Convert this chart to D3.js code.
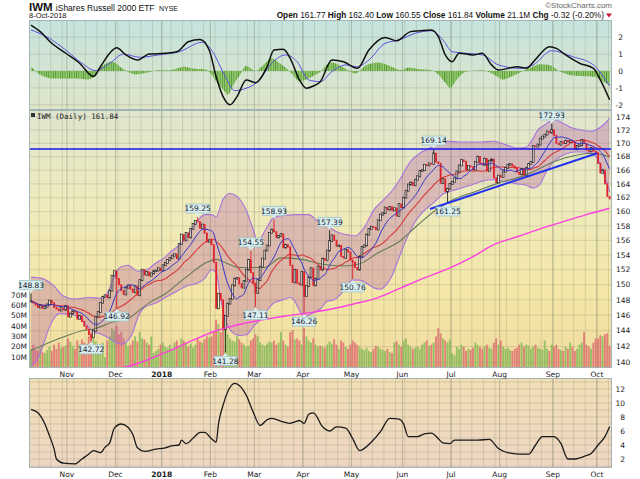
<!DOCTYPE html>
<html>
<head>
<meta charset="utf-8">
<script src="https://cdn.jsdelivr.net/npm/d3@7"></script>
<style>
  body { margin: 0; background: #fff; }
  svg { display: block; font-family: "DejaVu Sans", Verdana, sans-serif; }
</style>
</head>
<body>
<svg id="chart" width="640" height="479"></svg>
<script>
// IWM daily, 10-Oct-2017 .. 8-Oct-2018

// daily closes, one per trading day
const closes = [
  // Oct 2017
  147.8,147.6,147.3,147.0,147.2,146.9,147.1,147.4,147.9,147.6,147.0,146.8,146.6,146.9,146.7,147.2,
  // Nov
  145.8,146.2,146.5,146.4,145.5,145.9,145.2,144.6,144.2,143.5,143.2,144.0,145.8,146.4,147.6,148.4,148.6,148.3,149.2,151.2,151.8,
  // Dec
  150.8,150.0,149.2,148.7,149.6,149.9,149.4,149.0,149.8,148.6,150.6,152.0,151.3,151.7,151.2,151.5,151.8,151.9,152.2,151.9,
  // Jan 2018
  152.6,152.9,153.3,153.6,153.9,154.1,153.5,155.5,156.8,156.0,157.0,156.4,157.6,158.3,158.7,158.6,157.7,158.2,157.0,155.8,156.0,
  // Feb
  155.4,153.0,146.9,148.8,148.0,144.2,145.9,147.5,148.1,149.9,150.8,150.9,150.1,149.6,150.5,152.0,153.3,151.6,150.2,
  // Mar
  148.9,150.6,152.4,153.5,154.6,155.3,157.0,157.5,157.2,156.4,156.6,156.9,155.0,155.4,155.1,152.6,150.3,152.0,150.2,150.0,151.7,
  // Apr
  148.5,149.8,151.0,152.2,149.9,150.8,152.4,152.0,153.5,153.3,154.6,155.9,156.7,156.0,155.2,155.3,153.8,153.6,154.7,154.4,153.3,
  // May
  153.0,152.3,152.0,153.8,155.1,155.3,156.8,157.6,157.9,157.8,157.5,158.8,159.6,159.8,160.6,160.3,160.7,160.2,160.5,159.4,161.1,160.6,
  // Jun
  162.0,163.0,163.9,164.2,163.8,164.6,165.1,165.9,166.0,166.8,166.7,167.0,166.9,168.5,167.2,167.0,164.1,164.7,162.9,163.3,164.0,
  // Jul
  164.3,164.8,165.8,166.7,167.5,167.3,166.1,166.6,166.5,166.1,167.2,168.0,167.0,166.8,167.7,165.9,167.4,167.6,164.9,164.2,165.2,
  // Aug
  165.0,165.8,166.3,166.8,166.9,166.6,166.3,165.7,165.4,166.2,165.3,166.3,166.9,167.2,169.6,169.5,169.8,170.7,171.0,171.3,171.8,171.6,172.0,
  // Sep
  171.2,170.0,169.8,170.2,170.0,170.4,170.2,170.4,170.1,169.1,169.6,169.7,170.5,170.0,169.0,168.8,169.3,168.8,168.6,
  // Oct
  167.0,165.6,166.0,164.0,162.2,161.84
];

// daily volume, millions
const volumes = [
  18,22,17,16,19,15,14,17,20,16,22,18,24,19,20,21,
  28,25,21,18,26,22,27,24,23,30,34,29,25,19,22,24,10,26,30,38,36,
  40,32,34,28,24,20,22,26,30,25,34,28,27,24,22,30,14,16,18,22,
  24,20,19,22,18,24,26,21,28,26,24,20,23,19,22,28,25,24,27,30,29,
  30,34,46,42,34,44,48,32,28,26,25,30,27,24,22,20,21,26,28,
  32,30,24,22,21,23,25,24,26,22,24,34,26,22,20,34,36,27,28,26,22,
  38,30,26,24,28,22,20,21,20,19,22,25,23,27,22,18,26,24,20,18,22,
  26,24,22,20,18,17,19,16,15,18,21,20,18,17,16,18,15,14,24,25,22,20,
  26,28,22,20,18,19,20,18,22,24,26,21,22,24,30,38,33,28,26,24,27,
  14,12,20,18,22,20,16,18,17,19,24,22,20,18,20,22,19,18,24,28,22,
  26,20,18,19,17,16,18,19,22,24,20,22,21,18,20,22,19,18,17,26,18,16,22,
  20,22,18,17,16,20,18,24,20,16,18,22,24,34,22,20,18,24,28,
  28,31,30,32,33,21.1
];

// labelled highs / lows: [day index, price, kind]
const pivots = [
  [0,148.83,"high"],[26,142.72,"low"],[37,146.92,"low"],[72,159.25,"high"],
  [84,141.28,"low"],[95,154.55,"high"],[97,147.11,"low"],[105,158.93,"high"],
  [118,146.26,"low"],[129,157.39,"high"],[139,150.76,"low"],[174,169.14,"high"],
  [180,161.25,"low"],[225,172.93,"high"]
];

// indicator readings [day index, value]
const bbUpperPts = [[0,151.0],[5,150.8],[10,149.8],[14,148.5],[19,148.1],[25,148.3],[30,148.2],[34,149.5],[36,151.2],[39,152.4],[42,152.6],[46,151.8],[50,152.0],[54,152.9],[58,153.7],[61,154.6],[64,155.3],[67,156.5],[71,158.3],[75,159.6],[78,159.6],[80,159.3],[83,161.8],[86,162.6],[89,162.2],[93,160.2],[96,157.5],[98,155.8],[101,157.3],[105,159.2],[110,159.5],[115,159.6],[120,159.6],[124,158.6],[128,158.0],[132,157.2],[136,156.8],[140,156.6],[144,157.8],[148,160.2],[152,161.6],[156,163.0],[160,165.0],[164,167.3],[168,168.5],[172,169.2],[176,170.0],[180,170.3],[185,170.2],[190,170.2],[195,170.2],[200,170.3],[205,169.8],[210,169.3],[214,169.4],[216,170.2],[219,172.0],[222,172.8],[226,173.6],[230,173.0],[234,172.3],[238,172.0],[242,171.8],[245,172.2],[248,173.0],[250,173.8]];
const bbLowerPts = [[0,139.5],[3,140.5],[6,142.8],[8,144.5],[10,145.6],[12,146.2],[14,146.2],[19,146.0],[22,145.3],[25,144.4],[27,143.8],[30,143.6],[34,143.0],[36,142.6],[39,142.3],[42,142.8],[44,143.8],[46,145.6],[49,147.0],[54,147.6],[58,148.3],[61,148.8],[64,149.3],[67,149.8],[71,150.1],[75,150.8],[78,152.0],[80,151.6],[82,148.0],[84,145.5],[87,143.8],[90,143.4],[93,143.5],[96,144.5],[99,145.4],[102,146.6],[105,147.6],[109,148.0],[112,148.3],[114,147.8],[116,146.6],[118,145.8],[120,146.0],[122,146.3],[125,146.8],[128,147.8],[131,148.0],[134,148.8],[136,149.6],[139,150.6],[142,150.6],[145,150.2],[148,149.6],[151,149.4],[153,149.8],[156,151.2],[159,153.6],[162,156.0],[166,158.6],[170,160.2],[174,161.3],[178,162.5],[182,163.0],[186,163.4],[190,163.8],[195,164.4],[200,164.6],[205,164.3],[210,164.0],[214,163.8],[217,163.4],[220,164.0],[223,166.0],[227,167.6],[231,168.4],[235,168.7],[239,168.7],[242,168.5],[244,168.0],[246,166.8],[248,165.0],[250,162.8]];
const ma50Pts = [[0,141.5],[13,143.1],[22,144.0],[28,144.3],[35,145.1],[42,145.6],[51,147.6],[58,148.8],[67,151.0],[76,153.0],[80,153.4],[85,152.8],[90,152.3],[101,152.3],[108,153.6],[117,153.4],[125,152.8],[135,152.5],[142,152.8],[150,154.3],[159,155.8],[167,158.1],[176,160.5],[183,161.8],[193,163.0],[201,164.0],[213,165.2],[228,167.5],[242,168.5],[250,168.0]];
const ma200Pts = [[0,136.5],[10,137.3],[20,138.2],[30,139.0],[40,139.4],[45,139.8],[50,140.3],[60,141.5],[70,142.8],[80,144.0],[90,144.8],[100,145.4],[110,145.9],[120,146.3],[130,146.8],[140,147.5],[150,148.3],[160,149.6],[170,150.9],[180,152.1],[190,153.6],[200,155.4],[210,156.5],[220,157.6],[230,158.6],[240,159.6],[250,160.5]];
const macdPts = [[0,2.72],[4,2.33],[9,1.64],[15,1.05],[21,0.46],[27,-0.33],[30,0.25],[34,1.05],[37,1.38],[41,0.95],[46,0.65],[51,1.0],[58,1.05],[63,1.14],[68,1.73],[73,1.87],[77,1.24],[80,-0.34],[83,-1.52],[86,-2.0],[89,-1.52],[93,-0.53],[97,-0.69],[102,0.25],[105,1.24],[109,1.28],[112,0.75],[116,-0.53],[119,-1.02],[122,-0.89],[125,-0.63],[130,0.65],[135,0.55],[141,0.16],[146,1.24],[153,1.98],[158,1.79],[164,2.33],[168,2.38],[173,2.43],[176,2.03],[179,0.95],[182,0.55],[185,1.05],[191,0.95],[195,1.05],[199,0.36],[202,0.06],[210,0.25],[214,0.16],[218,0.69],[224,1.44],[227,1.34],[231,0.95],[237,0.46],[243,0.16],[246,-0.53],[250,-1.7]];
const signalPts = [[0,2.43],[8,1.93],[15,1.24],[22,0.46],[28,0.02],[34,0.46],[40,1.0],[47,0.81],[55,0.95],[64,1.14],[74,1.70],[78,1.24],[84,-0.34],[88,-1.16],[93,-1.02],[98,-0.63],[104,0.46],[110,0.95],[115,0.55],[120,-0.53],[125,-0.63],[130,-0.04],[136,0.36],[141,0.25],[146,0.65],[153,1.64],[159,1.83],[166,2.23],[173,2.38],[178,1.83],[182,1.14],[188,1.05],[195,0.95],[202,0.36],[211,0.16],[217,0.36],[225,1.20],[234,0.85],[243,0.36],[250,-0.89]];
const histPts = [[0,0.25],[5,-0.3],[10,-0.45],[20,-0.45],[24,-0.5],[28,-0.3],[30,0.2],[35,0.55],[40,0.1],[45,-0.2],[50,-0.1],[55,0.05],[60,0.05],[63,0.15],[66,0.25],[70,0.15],[75,0.1],[78,-0.2],[80,-0.6],[83,-1.1],[85,-1.4],[88,-0.7],[90,-0.3],[93,0.3],[97,0.0],[100,0.3],[104,0.75],[107,0.5],[110,0.2],[113,-0.2],[116,-0.6],[119,-0.5],[122,-0.3],[125,-0.05],[128,0.4],[130,0.5],[135,0.2],[140,-0.15],[145,0.35],[150,0.5],[155,0.3],[160,0.05],[163,0.2],[168,0.1],[173,0.05],[176,-0.2],[179,-0.7],[181,-1.0],[184,-0.5],[187,-0.1],[190,0.0],[195,0.05],[200,-0.2],[204,-0.5],[208,-0.3],[212,-0.05],[216,0.2],[220,0.4],[224,0.35],[228,0.0],[232,-0.2],[238,-0.3],[244,-0.35],[247,-0.6],[250,-0.85]];
const bwPts = [[0,9.1],[3,8.6],[6,7.0],[8,5.3],[10,3.4],[11,2.0],[14,1.4],[19,1.3],[22,2.0],[25,2.7],[27,3.2],[30,2.9],[32,3.7],[34,4.3],[36,6.4],[39,7.0],[42,6.5],[44,5.5],[46,3.6],[49,3.1],[54,3.4],[58,3.6],[61,3.9],[64,4.0],[65,4.7],[67,4.2],[71,5.3],[73,5.8],[75,5.8],[78,4.9],[80,4.4],[81,7.0],[83,9.7],[85,11.6],[88,12.8],[90,12.5],[93,11.1],[96,8.7],[99,6.8],[102,7.6],[104,7.8],[109,7.3],[112,7.1],[114,7.3],[116,7.5],[118,7.1],[120,8.4],[122,8.6],[126,6.6],[129,6.0],[132,6.6],[136,6.4],[139,4.9],[142,3.2],[147,4.4],[151,5.9],[155,7.8],[159,7.7],[161,7.0],[163,5.2],[167,5.2],[170,5.6],[173,5.7],[176,4.9],[178,4.3],[181,4.2],[183,4.7],[188,4.7],[193,4.7],[198,4.8],[202,3.5],[205,3.0],[211,2.7],[215,2.7],[218,4.0],[221,5.2],[226,5.2],[229,4.2],[232,2.0],[235,2.0],[240,2.5],[242,2.8],[245,4.0],[248,5.2],[250,6.6]];

// drawn annotations
const resistance = 169.14;
const trendLine = [[172.4,160.4],[244.6,168.5]];

// tick labels
const priceTicks = d3.range(140, 175, 2);
const volTicks = [10,20,30,40,50,60,70];
const macdTicks = [2,1,0,-1,-2];
const bwTicks = [2,4,6,8,10,12];
const quoteFields = [["Open","161.77"],["High","162.40"],["Low","160.55"],["Close","161.84"],["Volume","21.1M"],["Chg","-0.32 (-0.20%)"]];

const holidays = ["2017-11-23","2017-12-25","2018-01-01","2018-01-15","2018-02-19","2018-03-30","2018-05-28","2018-07-04","2018-09-03"];
const fmtKey = d3.timeFormat("%Y-%m-%d");

// trading calendar starting 10-Oct-2017
const dates = [];
for (let d = new Date(2017, 9, 10); dates.length < closes.length; d = d3.timeDay.offset(d, 1)) {
  const wd = d.getDay();
  if (wd === 0 || wd === 6 || holidays.includes(fmtKey(d))) continue;
  dates.push(new Date(d));
}

const svg = d3.select("#chart");
const L = 29, R = 612;
const P1 = {top: 20, bottom: 110}, P2 = {top: 110, bottom: 368}, P3 = {top: 378, bottom: 468};

const x = d3.scaleLinear().domain([0, closes.length - 1]).range([31, 609.6]);
const yP = d3.scaleLog().domain([140, 174]).range([362.6, 117]);
const yV = d3.scaleLinear().domain([0, 70]).range([367.5, 294.9]);
const yM = d3.scaleLinear().domain([-2, 2]).range([104.8, 37.2]);
const yB = d3.scaleLinear().domain([2, 12]).range([459, 389]);

const defs = svg.append("defs");
function grad(id, stops) {
  const g = defs.append("linearGradient").attr("id", id).attr("x1", 0).attr("x2", 0).attr("y1", 0).attr("y2", 1);
  stops.forEach(([o, c]) => g.append("stop").attr("offset", o).attr("stop-color", c));
}
grad("bg1", [[0, "#c5e3de"], [1, "#dfe6c9"]]);
grad("bg2", [[0, "#dfe5cf"], [0.35, "#efebbd"], [0.7, "#f4e7a8"], [1, "#f1dc9f"]]);
grad("bg3", [[0, "#f2dfb5"], [1, "#eed6c3"]]);

function clip(id, p) {
  defs.append("clipPath").attr("id", id).append("rect")
    .attr("x", L).attr("y", p.top).attr("width", R - L).attr("height", p.bottom - p.top);
}
clip("c1", P1); clip("c2", P2); clip("c3", P3);

// MACD histogram stripes, one per trading day
const step = x(1) - x(0);
const pat = defs.append("pattern").attr("id", "histPat").attr("patternUnits", "userSpaceOnUse")
  .attr("x", x(0) - step / 2).attr("y", 0).attr("width", step).attr("height", 10);
pat.append("rect").attr("width", step).attr("height", 10).attr("fill", "#9ccd74");
pat.append("rect").attr("width", 0.9).attr("height", 10).attr("fill", "#4f9634");

const curve = d3.curveMonotoneX;
const ptLine = (ys) => d3.line().x(d => x(d[0])).y(d => ys(d[1])).curve(curve);

// panel backgrounds
[[P1, "bg1"], [P2, "bg2"], [P3, "bg3"]].forEach(([p, g]) => {
  svg.append("rect").attr("x", L).attr("y", p.top).attr("width", R - L).attr("height", p.bottom - p.top)
    .attr("fill", `url(#${g})`);
});

// vertical grid: first day of each week, darker at month start
const weekStarts = [], monthStarts = [];
dates.forEach((d, i) => {
  if (i === 0) return;
  const prev = dates[i - 1];
  if (d.getMonth() !== prev.getMonth()) monthStarts.push(i);
  if (d.getDay() < prev.getDay() || (d - prev) > 3.5 * 864e5) weekStarts.push(i);
});
[P1, P2, P3].forEach(p => {
  const g = svg.append("g");
  g.selectAll(".w").data(weekStarts).join("line")
    .attr("x1", i => x(i) - step / 2).attr("x2", i => x(i) - step / 2)
    .attr("y1", p.top).attr("y2", p.bottom).attr("stroke", "rgba(110,120,100,0.2)").attr("stroke-width", 1);
  g.selectAll(".m").data(monthStarts).join("line")
    .attr("x1", i => x(i) - step / 2).attr("x2", i => x(i) - step / 2)
    .attr("y1", p.top).attr("y2", p.bottom).attr("stroke", "rgba(100,110,90,0.35)").attr("stroke-width", 1);
});

// horizontal grid
function hgrid(vals, ys) {
  svg.append("g").selectAll("line").data(vals).join("line")
    .attr("x1", L).attr("x2", R).attr("y1", d => ys(d)).attr("y2", d => ys(d))
    .attr("stroke", "rgba(110,120,100,0.22)");
}
hgrid([-2, -1, 0, 1, 2], yM);
hgrid(priceTicks, yP);
hgrid(d3.range(1, 14), yB);

// ---- MACD panel ----
const g1 = svg.append("g").attr("clip-path", "url(#c1)");
g1.append("path").datum(histPts)
  .attr("d", d3.area().x(d => x(d[0])).y0(yM(0)).y1(d => yM(d[1])).curve(curve))
  .attr("fill", "url(#histPat)");
g1.append("path").datum(signalPts).attr("d", ptLine(yM))
  .attr("fill", "none").attr("stroke", "#5a4fe0").attr("stroke-width", 1);
g1.append("path").datum(macdPts).attr("d", ptLine(yM))
  .attr("fill", "none").attr("stroke", "#111").attr("stroke-width", 1.5);

// ---- price panel ----
const g2 = svg.append("g").attr("clip-path", "url(#c2)");

// volume bars
g2.selectAll(".vol").data(volumes).join("rect")
  .attr("x", (d, i) => x(i) - 1).attr("width", 1.9)
  .attr("y", d => yV(d)).attr("height", d => yV(0) - yV(d))
  .attr("fill", (d, i) => (i > 0 && closes[i] < closes[i - 1]) ? "rgba(222,112,112,0.85)" : "rgba(128,182,84,0.8)");

// Bollinger band fill: area above lower band, clipped under upper band
defs.append("clipPath").attr("id", "underUpper").append("path").datum(bbUpperPts)
  .attr("d", d3.area().x(d => x(d[0])).y0(P2.bottom + 5).y1(d => yP(d[1])).curve(curve));
g2.append("g").attr("clip-path", "url(#underUpper)").append("path").datum(bbLowerPts)
  .attr("d", d3.area().x(d => x(d[0])).y0(P2.top - 5).y1(d => yP(d[1])).curve(curve))
  .attr("fill", "rgba(175,90,165,0.33)");
[bbUpperPts, bbLowerPts].forEach(pts => {
  g2.append("path").datum(pts).attr("d", ptLine(yP))
    .attr("fill", "none").attr("stroke", "#a874dc").attr("stroke-width", 1.1);
});

// moving averages from closes
function sma(arr, n) {
  return arr.map((_, i) => d3.mean(arr.slice(Math.max(0, i - n + 1), i + 1)));
}
const ma10 = sma(closes, 10), ma20 = sma(closes, 20);
g2.append("path").datum(ma50Pts).attr("d", ptLine(yP))
  .attr("fill", "none").attr("stroke", "#627a56").attr("stroke-width", 1.1);
g2.append("path").datum(ma20).attr("d", d3.line().x((d, i) => x(i)).y(d => yP(d)).curve(curve))
  .attr("fill", "none").attr("stroke", "#d63a3a").attr("stroke-width", 1.1);

// candles, open taken as the prior close
const pivotByDay = new Map(pivots.map(p => [p[0], p]));
const cg = g2.append("g");
closes.forEach((c, i) => {
  const o = i > 0 ? closes[i - 1] : c;
  const down = c < o;
  const col = down ? "#e0202a" : "#222";
  const pv = pivotByDay.get(i);
  if (pv) {
    cg.append("line").attr("x1", x(i)).attr("x2", x(i))
      .attr("y1", yP(pv[1])).attr("y2", yP(pv[2] === "high" ? Math.max(o, c) : Math.min(o, c)))
      .attr("stroke", col).attr("stroke-width", 0.9);
  }
  const y0 = yP(Math.max(o, c)), y1 = yP(Math.min(o, c));
  cg.append("rect").attr("x", x(i) - 0.9).attr("width", 1.8)
    .attr("y", y0 - 0.5).attr("height", Math.max(1.2, y1 - y0 + 1))
    .attr("fill", down ? col : "rgba(255,255,255,0.5)")
    .attr("stroke", col).attr("stroke-width", down ? 0 : 0.7);
});

g2.append("path").datum(ma10).attr("d", d3.line().x((d, i) => x(i)).y(d => yP(d)).curve(curve))
  .attr("fill", "none").attr("stroke", "#3434c8").attr("stroke-width", 1);
g2.append("path").datum(ma200Pts).attr("d", ptLine(yP))
  .attr("fill", "none").attr("stroke", "#ff3fe0").attr("stroke-width", 1.4);

// drawn lines
g2.append("line").attr("x1", L).attr("x2", R).attr("y1", yP(resistance)).attr("y2", yP(resistance))
  .attr("stroke", "#1616f0").attr("stroke-width", 1.6);
g2.append("line")
  .attr("x1", x(trendLine[0][0])).attr("y1", yP(trendLine[0][1]))
  .attr("x2", x(trendLine[1][0])).attr("y2", yP(trendLine[1][1]))
  .attr("stroke", "#2030f0").attr("stroke-width", 2);

// ---- bandwidth panel ----
const g3 = svg.append("g").attr("clip-path", "url(#c3)");
g3.append("path").datum(bwPts).attr("d", ptLine(yB))
  .attr("fill", "none").attr("stroke", "#1a1a1a").attr("stroke-width", 1.3);

// panel borders
[P1, P2, P3].forEach(p => {
  svg.append("rect").attr("x", L + 0.5).attr("y", p.top + 0.5).attr("width", R - L - 1).attr("height", p.bottom - p.top - 1)
    .attr("fill", "none").attr("stroke", "#a4b3b3").attr("stroke-width", 1);
});

// pivot labels
const lg = svg.append("g").attr("font-size", 7.5);
pivots.forEach(([i, price, kind]) => {
  const cx = x(i), py = yP(price);
  const bw = 23, bh = 9;
  const by = kind === "high" ? py - 4 - bh : py + 4;
  const tip = kind === "high" ? [[cx - 3, by + bh], [cx + 3, by + bh], [cx, py - 1]]
                              : [[cx - 3, by], [cx + 3, by], [cx, py + 1]];
  lg.append("rect").attr("x", cx - bw / 2).attr("y", by).attr("width", bw).attr("height", bh)
    .attr("fill", "#d9eeee").attr("stroke", "#9cc4c8").attr("stroke-width", 0.8);
  lg.append("path").attr("d", d3.line()(tip) + "Z").attr("fill", "#d9eeee");
  lg.append("text").attr("x", cx).attr("y", by + bh - 1.8).attr("text-anchor", "middle")
    .attr("fill", "#223").text(price.toFixed(2));
});

// axis labels
const ax = svg.append("g").attr("font-size", 7.5).attr("fill", "#222");
ax.selectAll(".pt").data(priceTicks).join("text")
  .attr("x", 616).attr("y", d => yP(d) + 2.7).text(d => d);
ax.selectAll(".mt").data(macdTicks).join("text")
  .attr("x", 623).attr("y", d => yM(d) + 2.7).attr("text-anchor", "end").text(d => d);
ax.selectAll(".bt").data(bwTicks).join("text")
  .attr("x", 625).attr("y", d => yB(d) + 2.7).attr("text-anchor", "end").text(d => d);
ax.selectAll(".vt").data(volTicks).join("text")
  .attr("x", 27).attr("y", d => yV(d) + 2.7).attr("text-anchor", "end").text(d => d + "M");

const monthLabel = i => dates[i].getMonth() === 0 ? String(dates[i].getFullYear()) : d3.timeFormat("%b")(dates[i]);
[P2.bottom + 9, P3.bottom + 8.5].forEach(yy => {
  ax.selectAll(null).data(monthStarts).join("text")
    .attr("x", i => x(i) - step / 2).attr("y", yy).attr("text-anchor", "middle")
    .attr("font-weight", i => dates[i].getMonth() === 0 ? "bold" : "normal")
    .text(monthLabel);
});

// header
const hdr = svg.append("g").attr("font-family", "'Liberation Sans', Arial, sans-serif").attr("fill", "#111");
const t1 = hdr.append("text").attr("x", L).attr("y", 10.5);
t1.append("tspan").attr("font-size", 11.5).attr("font-weight", "bold").text("IWM ");
t1.append("tspan").attr("font-size", 8.5).text("iShares Russell 2000 ETF ");
t1.append("tspan").attr("font-size", 7).attr("dx", 2).text("NYSE");
hdr.append("text").attr("x", L).attr("y", 18).attr("font-size", 7.5).text("8-Oct-2018");
hdr.append("text").attr("x", R).attr("y", 7.5).attr("font-size", 8).attr("text-anchor", "end")
  .attr("fill", "#666").text("\u00A9StockCharts.com");
const q = hdr.append("text").attr("x", 604).attr("y", 18).attr("font-size", 8.3).attr("text-anchor", "end");
quoteFields.forEach(([k, v], j) => {
  q.append("tspan").attr("font-weight", "bold").text((j ? "  " : "") + k + " ");
  q.append("tspan").text(v);
});
hdr.append("path").attr("d", "M606,13.5 L612,13.5 L609,17.5 Z").attr("fill", "#c0183c");

// panel title
const pt = svg.append("g");
pt.append("rect").attr("x", 31).attr("y", 113).attr("width", 4).attr("height", 4).attr("fill", "#333");
pt.append("text").attr("x", 37).attr("y", 118.5).attr("font-size", 7.5)
  .attr("font-family", "'DejaVu Sans Mono', monospace").attr("fill", "#222")
  .text("IWM (Daily) " + closes[closes.length - 1].toFixed(2));
</script>
</body>
</html>
